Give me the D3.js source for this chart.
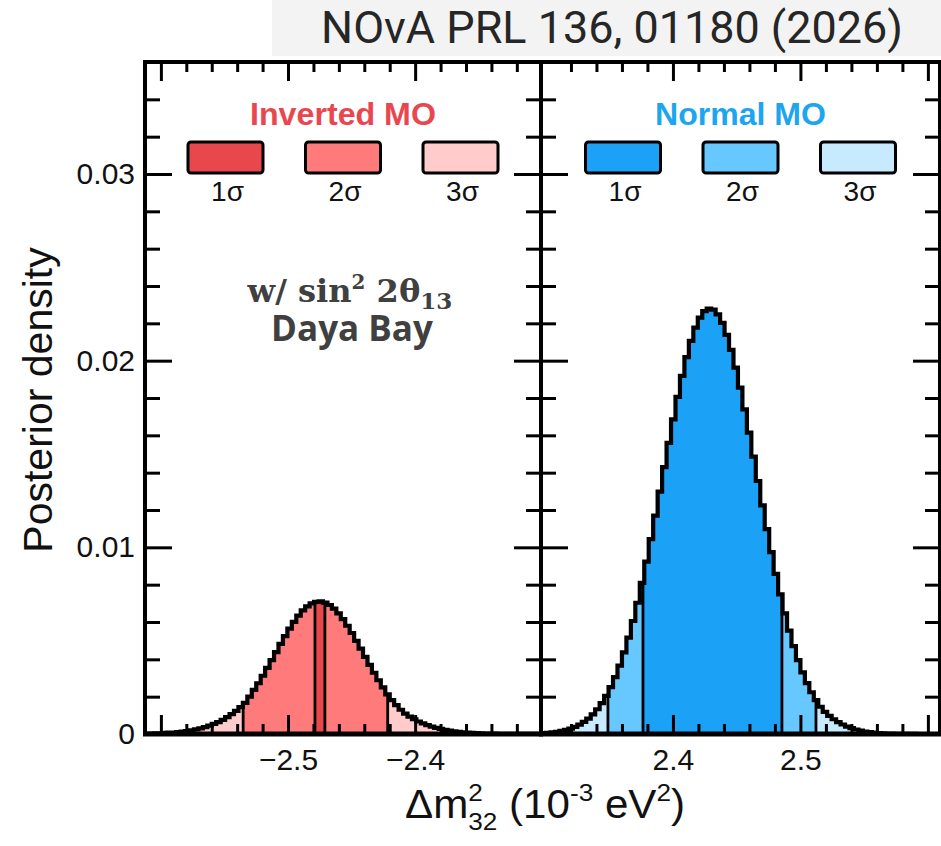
<!DOCTYPE html>
<html>
<head>
<meta charset="utf-8">
<script src="https://cdn.jsdelivr.net/npm/d3@7"></script>
<style>
  body { margin: 0; background: #ffffff; }
  svg { display: block; }
  text { white-space: pre; }
</style>
</head>
<body>
<svg id="chart" width="941" height="846"></svg>
<script>
// ---------------- DATA ----------------
const titleText = "NOvA PRL 136, 01180 (2026)";
const yAxisTitle = "Posterior density";
const yMajorTicks = [0, 0.01, 0.02, 0.03];
const yTickLabels = ["0", "0.01", "0.02", "0.03"];
const yDomain = [0, 0.036];

const panelTitles = ["Inverted MO", "Normal MO"];
const sigmaLabels = ["1σ", "2σ", "3σ"];

// Inverted mass ordering (left panel)
const invDomain = [-2.6125, -2.301];
const invMajorTicks = [-2.5, -2.4];
const invTickLabels = ["\u22122.5", "\u22122.4"];
const invBinStart = -2.6125;
const invBinWidth = 0.0035;
const invValues = [
  0.00002, 0.000028, 0.000035, 0.00004, 0.000055, 0.00007, 0.00008, 0.0001, 0.00013, 0.00016,
  0.0002, 0.00025, 0.0003, 0.00037, 0.00045, 0.00054, 0.00064, 0.00076, 0.0009, 0.00107,
  0.00124, 0.00144, 0.00167, 0.002, 0.00236, 0.00272, 0.00312, 0.00354, 0.00396, 0.00439,
  0.00483, 0.00524, 0.00565, 0.00601, 0.00634, 0.00662, 0.00684, 0.007, 0.00708, 0.0071,
  0.00704, 0.00691, 0.00672, 0.00646, 0.00615, 0.0058, 0.00541, 0.00499, 0.00457, 0.00413,
  0.0037, 0.00328, 0.00288, 0.0025, 0.00212, 0.00182, 0.00155, 0.0013, 0.00109, 0.00093,
  0.00079, 0.00067, 0.00057, 0.00048, 0.0004, 0.00033, 0.00027, 0.00022, 0.00018, 0.00014,
  0.00011, 0.00009, 0.00007, 0.00006, 0.000045, 0.000035, 0.000028, 0.00002, 0.000016, 0.000012,
  0.00001, 0.000008, 0.000006, 0.000005, 0.000004, 0.000003, 0.000002, 0.000002, 0.000001
];
const invSigma1 = [-2.4788, -2.4710];
const invSigma2 = [-2.5353, -2.4216];
const invSigma3 = [-2.575, -2.382];

// Normal mass ordering (right panel)
const norDomain = [2.2965, 2.6095];
const norMajorTicks = [2.4, 2.5];
const norTickLabels = ["2.4", "2.5"];
const norBinStart = 2.297;
const norBinWidth = 0.0035;
const norValues = [
  0.000047, 0.000065, 0.000089, 0.000121, 0.000164, 0.000219, 0.000292, 0.000384, 0.0005, 0.000647,
  0.000829, 0.001053, 0.001326, 0.001654, 0.002045, 0.002506, 0.003043, 0.003663, 0.00437, 0.005167,
  0.006054, 0.007031, 0.008093, 0.009232, 0.010437, 0.011694, 0.012986, 0.014293, 0.015592, 0.016857,
  0.018062, 0.01918, 0.020187, 0.021057, 0.021769, 0.022304, 0.02265, 0.022795, 0.022738, 0.022478,
  0.022023, 0.021385, 0.020581, 0.019632, 0.018557, 0.017388, 0.016145, 0.014859, 0.013553, 0.012251,
  0.010976, 0.009745, 0.008578, 0.00748, 0.006467, 0.00554, 0.004705, 0.003959, 0.003301, 0.002729,
  0.002236, 0.001816, 0.001461, 0.00118, 0.00097, 0.00079, 0.00064, 0.00051, 0.0004, 0.00031,
  0.00024, 0.00018, 0.00013, 0.0001, 0.00007, 0.00005, 0.000035, 0.000025, 0.000017, 0.000012,
  0.000008, 0.000005, 0.000003, 0.000002, 0.000001, 0.000001, 0, 0, 0
];
const norSigma1 = [2.3765, 2.4855];
const norSigma2 = [2.349, 2.5122];
const norSigma3 = [2.318, 2.541];

// ---------------- STYLE ----------------
const invColors = ["#e8474c", "#ff7b7b", "#ffcbcb"];
const norColors = ["#1ba1f5", "#66c8ff", "#c8eaff"];
const invTitleColor = "#e9474f";
const norTitleColor = "#1ea5f0";
const SANS = "'Liberation Sans', Arial, Helvetica, sans-serif";

// ---------------- LAYOUT ----------------
const svg = d3.select("#chart");
const yTop = 62, yBot = 734;
const y = d3.scaleLinear().domain(yDomain).range([yBot, yTop]);

const panels = [
  { id: "inv", x0: 145, x1: 541, domain: invDomain, majors: invMajorTicks, labels: invTickLabels,
    start: invBinStart, width: invBinWidth, values: invValues,
    bands: [invSigma3, invSigma2, invSigma1], colors: invColors,
    title: panelTitles[0], titleColor: invTitleColor, showY: true },
  { id: "nor", x0: 541, x1: 940, domain: norDomain, majors: norMajorTicks, labels: norTickLabels,
    start: norBinStart, width: norBinWidth, values: norValues,
    bands: [norSigma3, norSigma2, norSigma1], colors: norColors,
    title: panelTitles[1], titleColor: norTitleColor, showY: false }
];

// title box
svg.append("rect").attr("x", 272).attr("y", 0).attr("width", 669).attr("height", 56).attr("fill", "#f3f3f3");
const titleT = svg.append("text")
  .attr("x", 612).attr("y", 43)
  .attr("text-anchor", "middle")
  .attr("font-family", "Roboto, 'Liberation Sans', sans-serif")
  .attr("font-size", 40).attr("fill", "#262626")
  .text(titleText);
{
  const w = titleT.node().getComputedTextLength();
  titleT.attr("font-size", 40 * 582 / w);
}

const defs = svg.append("defs");

function minorTicks(domain, step, majors) {
  const lo = Math.ceil(domain[0] / step - 1e-9), hi = Math.floor(domain[1] / step + 1e-9);
  const out = [];
  for (let i = lo; i <= hi; i++) {
    const v = +(i * step).toFixed(6);
    if (!majors.some(m => Math.abs(m - v) < 1e-9)) out.push(v);
  }
  return out;
}

const yAllMinor = minorTicks(yDomain, 0.002, yMajorTicks).filter(v => v > yDomain[0] + 1e-9 && v < yDomain[1] - 1e-9);

panels.forEach((p, pi) => {
  const x = d3.scaleLinear().domain(p.domain).range([p.x0, p.x1]);
  const g = svg.append("g");

  const clipId = "clip-" + p.id;
  defs.append("clipPath").attr("id", clipId)
    .append("rect").attr("x", p.x0).attr("y", yTop).attr("width", p.x1 - p.x0).attr("height", yBot - yTop);

  const pts = p.values.map((v, i) => [p.start + i * p.width, v]);
  pts.push([p.start + p.values.length * p.width, p.values[p.values.length - 1]]);

  const area = d3.area().curve(d3.curveStepAfter)
    .x(d => x(d[0])).y0(y(0)).y1(d => y(d[1]));
  const line = d3.line().curve(d3.curveStepAfter)
    .x(d => x(d[0])).y(d => y(d[1]));

  const inner = g.append("g").attr("clip-path", `url(#${clipId})`);

  p.bands.forEach((b, bi) => {
    const bid = `band-${p.id}-${bi}`;
    defs.append("clipPath").attr("id", bid)
      .append("rect").attr("x", x(b[0])).attr("y", yTop).attr("width", x(b[1]) - x(b[0])).attr("height", yBot - yTop);
    inner.append("path").datum(pts)
      .attr("clip-path", `url(#${bid})`)
      .attr("d", area)
      .attr("fill", p.colors[2 - bi]);
  });

  const valAt = xv => {
    const i = Math.floor((xv - p.start) / p.width);
    return p.values[Math.max(0, Math.min(p.values.length - 1, i))];
  };
  [p.bands[1], p.bands[2]].forEach(b => {
    b.forEach(xv => {
      inner.append("line")
        .attr("x1", x(xv)).attr("x2", x(xv))
        .attr("y1", y(0)).attr("y2", y(valAt(xv)))
        .attr("stroke", "#000").attr("stroke-width", 2.8);
    });
  });

  inner.append("path").datum(pts)
    .attr("d", line)
    .attr("fill", "none").attr("stroke", "#000").attr("stroke-width", 4.2)
    .attr("stroke-linejoin", "miter");

  const xMinor = minorTicks(p.domain, 0.02, p.majors.concat([-2.6, 2.6]))
    .filter(v => x(v) > p.x0 + 6 && x(v) < p.x1 - 6);
  const xMajorAll = [-2.6, -2.5, -2.4, 2.4, 2.5, 2.6]
    .filter(v => v > p.domain[0] && v < p.domain[1] && x(v) > p.x0 + 6 && x(v) < p.x1 - 6);

  const styleAxis = sel => {
    sel.select(".domain").remove();
    sel.selectAll(".tick line").attr("stroke", "#000").attr("stroke-width", 3);
    sel.selectAll("text").attr("font-family", SANS).attr("font-size", 30).attr("fill", "#111");
  };

  g.append("g").attr("transform", `translate(0,${yBot})`)
    .call(d3.axisBottom(x).tickValues(xMinor).tickSize(-10).tickFormat(""))
    .call(styleAxis);
  g.append("g").attr("transform", `translate(0,${yBot})`)
    .call(d3.axisBottom(x).tickValues(xMajorAll).tickSize(-19).tickPadding(15)
      .tickFormat(v => { const i = p.majors.findIndex(m => Math.abs(m - v) < 1e-9); return i >= 0 ? p.labels[i] : ""; }))
    .call(styleAxis);
  g.append("g").attr("transform", `translate(0,${yTop})`)
    .call(d3.axisTop(x).tickValues(xMinor).tickSize(-10).tickFormat(""))
    .call(styleAxis);
  g.append("g").attr("transform", `translate(0,${yTop})`)
    .call(d3.axisTop(x).tickValues(xMajorAll).tickSize(-19).tickFormat(""))
    .call(styleAxis);
  g.append("g").attr("transform", `translate(${p.x0},0)`)
    .call(d3.axisLeft(y).tickValues(yAllMinor).tickSize(-15).tickFormat(""))
    .call(styleAxis);
  g.append("g").attr("transform", `translate(${p.x0},0)`)
    .call(d3.axisLeft(y).tickValues(yMajorTicks).tickSize(-27).tickPadding(10)
      .tickFormat((v, i) => p.showY ? yTickLabels[i] : ""))
    .call(styleAxis);
  g.append("g").attr("transform", `translate(${p.x1},0)`)
    .call(d3.axisRight(y).tickValues(yAllMinor).tickSize(-15).tickFormat(""))
    .call(styleAxis);
  g.append("g").attr("transform", `translate(${p.x1},0)`)
    .call(d3.axisRight(y).tickValues(yMajorTicks).tickSize(-27).tickFormat(""))
    .call(styleAxis);

  g.append("rect").attr("x", p.x0).attr("y", yTop).attr("width", p.x1 - p.x0).attr("height", yBot - yTop)
    .attr("fill", "none").attr("stroke", "#000").attr("stroke-width", 4);
  g.append("line").attr("x1", p.x0 - 2).attr("x2", p.x1 + 2).attr("y1", yBot).attr("y2", yBot)
    .attr("stroke", "#000").attr("stroke-width", 5);

  // legend
  const cx = (p.x0 + p.x1) / 2;
  const tt = g.append("text").attr("x", cx).attr("y", 125).attr("text-anchor", "middle")
    .attr("font-family", SANS).attr("font-weight", "bold").attr("font-size", 30)
    .attr("fill", p.titleColor).text(p.title);
  {
    const target = pi === 0 ? 186 : 171;
    const w = tt.node().getComputedTextLength();
    tt.attr("font-size", Math.min(33, 30 * target / w));
  }
  const offs = [-117.5, 0, 117.5];
  offs.forEach((o, i) => {
    g.append("rect").attr("x", cx + o - 37.5).attr("y", 142).attr("width", 75).attr("height", 31)
      .attr("rx", 3).attr("fill", p.colors[i]).attr("stroke", "#000").attr("stroke-width", 3);
    g.append("text").attr("x", cx + o + 2).attr("y", 201).attr("text-anchor", "middle")
      .attr("font-family", SANS).attr("font-size", 28).attr("fill", "#111").text(sigmaLabels[i]);
  });
});

// x-axis title: a single text element; the stacked sup/sub handled with tspans
{
  const F = 40;
  const t = svg.append("text").attr("x", 0).attr("y", 0)
    .attr("font-family", SANS).attr("font-size", F).attr("fill", "#111");
  t.append("tspan").text("\u0394m");
  const sup = t.append("tspan").attr("font-size", F * 0.62).attr("dy", -F * 0.42).text("2");
  const supW = sup.node().getComputedTextLength();
  t.append("tspan").attr("font-size", F * 0.62).attr("dx", -supW).attr("dy", F * 0.72).text("32");
  t.append("tspan").attr("dy", -F * 0.30).text(" (10");
  t.append("tspan").attr("font-size", F * 0.62).attr("dy", -F * 0.42).text("-3");
  t.append("tspan").attr("dy", F * 0.42).text(" eV");
  t.append("tspan").attr("font-size", F * 0.62).attr("dy", -F * 0.42).text("2");
  t.append("tspan").attr("dy", F * 0.42).text(")");
  const bb = t.node().getBBox();
  const sx = 280 / bb.width;
  t.attr("transform", `translate(${545 - 140 - bb.x * sx},818) scale(${sx},1)`);
}

// y-axis title
svg.append("text")
  .attr("transform", "translate(52,400) rotate(-90)")
  .attr("text-anchor", "middle")
  .attr("font-family", SANS).attr("font-size", 41).attr("fill", "#111")
  .text(yAxisTitle);

// annotation: one text element holding both lines
{
  const SERIF = "'DejaVu Serif', 'Liberation Serif', serif";
  const build = F => {
    const t = svg.append("text").attr("x", 350).attr("y", 302)
      .attr("text-anchor", "middle").attr("font-weight", "bold").attr("fill", "#404040");
    t.append("tspan").attr("font-family", SERIF).attr("font-size", F).text("w/ sin");
    t.append("tspan").attr("font-family", SERIF).attr("font-size", F * 0.62).attr("dy", -F * 0.42).text("2");
    t.append("tspan").attr("font-family", SERIF).attr("font-size", F).attr("dy", F * 0.42).text(" 2\u03b8");
    t.append("tspan").attr("font-family", SERIF).attr("font-size", F * 0.72).attr("dy", F * 0.22).text("13");
    return t;
  };
  // measure first line width at a trial size, then rebuild at fitted size
  let t = build(30);
  const w = t.node().getBBox().width;
  t.remove();
  const F = 30 * 206 / w;
  t = build(F);
  t.append("tspan").attr("x", 352).attr("y", 341)
    .attr("font-family", "'Open Sans', 'Noto Sans', sans-serif").attr("font-size", 35)
    .text("Daya Bay");
}
</script>
</body>
</html>
